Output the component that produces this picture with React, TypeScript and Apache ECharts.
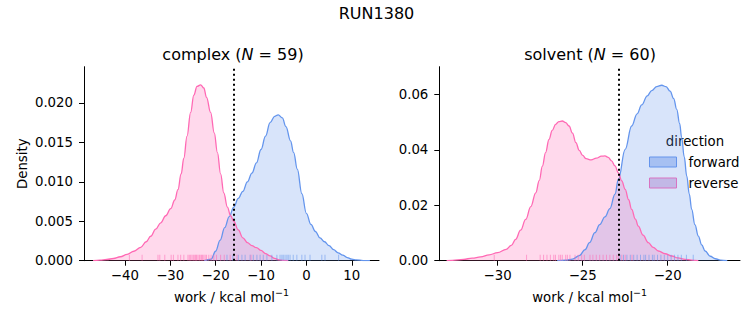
import React, { useEffect, useRef } from "react";
import * as echarts from "echarts";

// ---------- data ----------
const suptitle = "RUN1380";
const complexN = 59;
const solventN = 60;
const complexDG = -15.94;
const solventDG = -22.86;

const complexXTicks = [-40, -30, -20, -10, 0, 10];
const complexYTicks = [0, 0.005, 0.01, 0.015, 0.02];
const solventXTicks = [-30, -25, -20];
const solventYTicks = [0, 0.02, 0.04, 0.06];

// complex, forward KDE
const cFwdX = [-22.5, -21, -20, -19, -18, -17, -16, -15, -14, -13, -12, -11, -10, -9, -8, -7, -6.2, -5.3, -4.5, -3.5, -2.8, -2, -1, 0, 1, 2, 3, 4, 5, 6, 7, 8, 9, 10, 11, 12.5, 14];
const cFwdY = [0, 0.0002, 0.0012, 0.0026, 0.0042, 0.0056, 0.0068, 0.0079, 0.0088, 0.01, 0.0111, 0.0124, 0.0141, 0.0158, 0.0175, 0.0183, 0.0185, 0.0181, 0.017, 0.0152, 0.0137, 0.0116, 0.0085, 0.006, 0.0046, 0.0037, 0.0029, 0.0024, 0.0019, 0.0014, 0.001, 0.0007, 0.0004, 0.0002, 0.0001, 0.00002, 0];
// complex, reverse KDE
const cRevX = [-47, -45.5, -44, -42.5, -41, -39.5, -38, -36.5, -35.3, -34.3, -33.2, -32.1, -31, -29.9, -29, -28.3, -27.6, -27, -26.3, -25.5, -24.8, -24.1, -23.3, -22.6, -22, -21.1, -20.3, -19.6, -18.9, -18.2, -17.4, -16.7, -16, -15, -14, -13, -12, -11, -10, -9, -8, -7, -6, -5, -4];
const cRevY = [0, 0.00008, 0.00015, 0.00028, 0.0005, 0.0008, 0.0012, 0.0017, 0.0024, 0.0031, 0.004, 0.0048, 0.0057, 0.0066, 0.0077, 0.009, 0.011, 0.013, 0.0158, 0.0188, 0.021, 0.0221, 0.0223, 0.0219, 0.0207, 0.0188, 0.0162, 0.0137, 0.011, 0.0086, 0.0068, 0.0057, 0.005, 0.0039, 0.0029, 0.0023, 0.0019, 0.00165, 0.0013, 0.0009, 0.0006, 0.0003, 0.0001, 0.00003, 0];

// solvent, forward KDE
const sFwdX = [-26.5, -26, -25.6, -25.2, -24.86, -24.6, -24.28, -24, -23.69, -23.4, -23.1, -22.9, -22.5, -22.12, -21.8, -21.53, -21.2, -20.94, -20.65, -20.35, -20.1, -19.86, -19.65, -19.47, -19.3, -19.18, -19.03, -18.88, -18.73, -18.59, -18.4, -18.2, -18, -17.8, -17.5, -17.2, -16.9, -16.5];
const sFwdY = [0, 0.0002, 0.0006, 0.0018, 0.004, 0.0065, 0.0101, 0.013, 0.0158, 0.0188, 0.024, 0.0294, 0.0402, 0.0486, 0.053, 0.0562, 0.0595, 0.0614, 0.0628, 0.0633, 0.0628, 0.0612, 0.0585, 0.0546, 0.0495, 0.0445, 0.0375, 0.0305, 0.024, 0.0185, 0.013, 0.0089, 0.0057, 0.0035, 0.0016, 0.0007, 0.0002, 0];
// solvent, reverse KDE
const sRevX = [-33, -32.66, -32, -31.5, -31, -30.5, -30, -29.5, -29.2, -28.94, -28.65, -28.35, -28.05, -27.76, -27.55, -27.37, -27.18, -26.98, -26.79, -26.59, -26.4, -26.2, -26, -25.8, -25.6, -25.4, -25.2, -25, -24.8, -24.5, -24.2, -23.9, -23.69, -23.5, -23.3, -23.1, -22.9, -22.7, -22.5, -22.3, -22.12, -21.9, -21.73, -21.45, -21.14, -20.85, -20.55, -20.15, -19.76, -19.4, -18.98, -18.6, -18.2];
const sRevY = [0, 0.00015, 0.0005, 0.0009, 0.0014, 0.0021, 0.0029, 0.0041, 0.0055, 0.0077, 0.011, 0.0149, 0.0195, 0.0245, 0.029, 0.0341, 0.039, 0.0438, 0.047, 0.0492, 0.0502, 0.0504, 0.0498, 0.0486, 0.046, 0.0426, 0.0398, 0.038, 0.0368, 0.0364, 0.037, 0.0377, 0.0378, 0.0373, 0.036, 0.0342, 0.0317, 0.0288, 0.0257, 0.022, 0.0185, 0.015, 0.0125, 0.0092, 0.0065, 0.0048, 0.0035, 0.0025, 0.0017, 0.001, 0.0005, 0.0002, 0];

// rug samples
const cFwdRug = [-17.5, -16.2, -15.0, -14.2, -13.5, -12.4, -11.7, -10.9, -10.2, -9.5, -8.7, -7.6, -6.5, -5.8, -5.4, -5.1, -4.7, -4.3, -4.0, -3.6, -2.9, -2.1, -1.0, -0.3, 0.8, 3.4, 4.1, 7.1];
const cRevRug = [-39.0, -36.2, -32.7, -32.3, -31.2, -29.8, -29.3, -28.3, -27.7, -27.0, -26.1, -25.8, -25.5, -25.2, -24.9, -24.6, -24.4, -24.2, -23.9, -23.6, -23.4, -23.1, -22.9, -22.6, -22.3, -22.0, -21.5, -21.0, -20.4, -19.8, -18.9, -18.1, -16.8, -15.3, -12.2];
const sFwdRug = [-22.8, -22.6, -22.4, -22.2, -22.0, -21.8, -21.6, -21.4, -21.3, -21.1, -20.9, -20.8, -20.6, -20.4, -20.2, -20.0, -19.8, -19.6, -19.4, -19.2, -18.9, -18.5];
const sRevRug = [-30.2, -28.3, -27.5, -27.3, -27.1, -26.9, -26.7, -26.6, -26.4, -26.3, -26.2, -26.0, -25.9, -25.75, -25.45, -25.26, -25.06, -24.9, -24.57, -24.4, -24.2, -24.0, -23.8, -23.6, -23.4, -23.2, -23.0, -22.9, -22.7, -22.5, -22.1];

// ---------- style ----------
const FONT = "DejaVu Sans";
const BLUE = "#6495ED";
const PINK = "#FF69B4";

const zip = (xs: number[], ys: number[]) => xs.map((x, i) => [x, ys[i]]);
const minusFmt = (v: number) => (v < 0 ? "\u2212" + Math.abs(v) : String(v));

function kdeSeries(name: string, xs: number[], ys: number[], color: string, idx: number, extra: any = {}) {
  return {
    name,
    type: "line",
    xAxisIndex: idx,
    yAxisIndex: idx,
    data: zip(xs, ys),
    smooth: 0.4,
    smoothMonotone: "x",
    showSymbol: false,
    symbol: "none",
    lineStyle: { color, width: 1.3 },
    areaStyle: { color, opacity: 0.25 },
    z: 2,
    ...extra,
  };
}

function rugSeries(xs: number[], color: string, idx: number) {
  return {
    type: "scatter",
    xAxisIndex: idx,
    yAxisIndex: idx,
    data: xs.map((x) => [x, 0]),
    symbol: "rect",
    symbolSize: [1, 6],
    symbolOffset: [0, -3],
    itemStyle: { color, opacity: 0.55 },
    z: 3,
  };
}

function dgLine(x: number) {
  return {
    silent: true,
    symbol: ["none", "none"],
    label: { show: false },
    lineStyle: { color: "#000", type: [2, 3], width: 2 },
    data: [{ xAxis: x }],
    z: 5,
  };
}

const axisText = { color: "#000", fontFamily: FONT, fontSize: 13.3 };

function xAxisCfg(idx: number, min: number, max: number, ticks: number[]) {
  return {
    gridIndex: idx,
    type: "value",
    min,
    max,
    axisLine: { show: true, onZero: false, lineStyle: { color: "#000", width: 1 } },
    axisTick: { show: true, length: 5, inside: false, customValues: ticks, lineStyle: { color: "#000" } },
    axisLabel: { ...axisText, margin: 8, customValues: ticks, formatter: minusFmt },
    splitLine: { show: false },
    name: "work / kcal mol{s|\u22121}",
    nameLocation: "middle",
    nameGap: 27,
    nameTextStyle: {
      ...axisText,
      rich: { s: { fontFamily: FONT, fontSize: 9.5, color: "#000", padding: [0, 0, 9, 0] } },
    },
  };
}

function yAxisCfg(idx: number, max: number, ticks: number[], digits: number, name?: string) {
  return {
    gridIndex: idx,
    type: "value",
    min: 0,
    max,
    axisLine: { show: true, onZero: false, lineStyle: { color: "#000", width: 1 } },
    axisTick: { show: true, length: 5, inside: false, customValues: ticks, lineStyle: { color: "#000" } },
    axisLabel: { ...axisText, margin: 11, customValues: ticks, formatter: (v: number) => v.toFixed(digits) },
    splitLine: { show: false },
    name: name || "",
    nameLocation: "middle",
    nameGap: 55,
    nameRotate: 90,
    nameTextStyle: { ...axisText },
  };
}

export default function App() {
  const ref = useRef<HTMLDivElement>(null);
  useEffect(() => {
    if (!ref.current) return;
    const chart = echarts.init(ref.current, undefined, { renderer: "svg" });
    const titleStyle = { fontFamily: FONT, fontSize: 16, fill: "#000", align: "center", verticalAlign: "middle" };
    const italic = { i: { fontFamily: FONT, fontSize: 16, fontStyle: "italic", fill: "#000" } };
    chart.setOption({
      animation: false,
      backgroundColor: "#fff",
      grid: [
        { left: 84, top: 66.7, width: 295, height: 194 },
        { left: 439.3, top: 66.7, width: 300.7, height: 194 },
      ],
      xAxis: [xAxisCfg(0, -49, 16, complexXTicks), xAxisCfg(1, -33.43, -15.75, solventXTicks)],
      yAxis: [yAxisCfg(0, 0.0246, complexYTicks, 3, "Density"), yAxisCfg(1, 0.07, solventYTicks, 2)],
      series: [
        kdeSeries("forward", cFwdX, cFwdY, BLUE, 0),
        kdeSeries("reverse", cRevX, cRevY, PINK, 0, { markLine: dgLine(complexDG) }),
        rugSeries(cFwdRug, BLUE, 0),
        rugSeries(cRevRug, PINK, 0),
        kdeSeries("forward", sFwdX, sFwdY, BLUE, 1),
        kdeSeries("reverse", sRevX, sRevY, PINK, 1, { markLine: dgLine(solventDG) }),
        rugSeries(sFwdRug, BLUE, 1),
        rugSeries(sRevRug, PINK, 1),
      ],
      graphic: [
        { type: "text", x: 376.5, y: 13, style: { ...titleStyle, text: suptitle } },
        { type: "text", x: 233, y: 54, style: { ...titleStyle, text: `complex ({i|N} = ${complexN})`, rich: italic } },
        { type: "text", x: 590, y: 54, style: { ...titleStyle, text: `solvent ({i|N} = ${solventN})`, rich: italic } },
        { type: "text", x: 695, y: 141, style: { fontFamily: FONT, fontSize: 13.3, fill: "#000", align: "center", verticalAlign: "middle", text: "direction" } },
        { type: "rect", shape: { x: 649.5, y: 157, width: 27, height: 10 }, style: { fill: "#bccff4", stroke: BLUE, lineWidth: 1 } },
        { type: "text", x: 688.5, y: 162, style: { fontFamily: FONT, fontSize: 13.3, fill: "#000", align: "left", verticalAlign: "middle", text: "forward" } },
        { type: "rect", shape: { x: 649.5, y: 178, width: 27, height: 10 }, style: { fill: "#e2c4e4", stroke: PINK, lineWidth: 1 } },
        { type: "text", x: 688.5, y: 183, style: { fontFamily: FONT, fontSize: 13.3, fill: "#000", align: "left", verticalAlign: "middle", text: "reverse" } },
      ],
    });
    return () => chart.dispose();
  }, []);
  return <div ref={ref} style={{ position: "fixed", left: 0, top: 0, width: 753, height: 325 }} />;
}
